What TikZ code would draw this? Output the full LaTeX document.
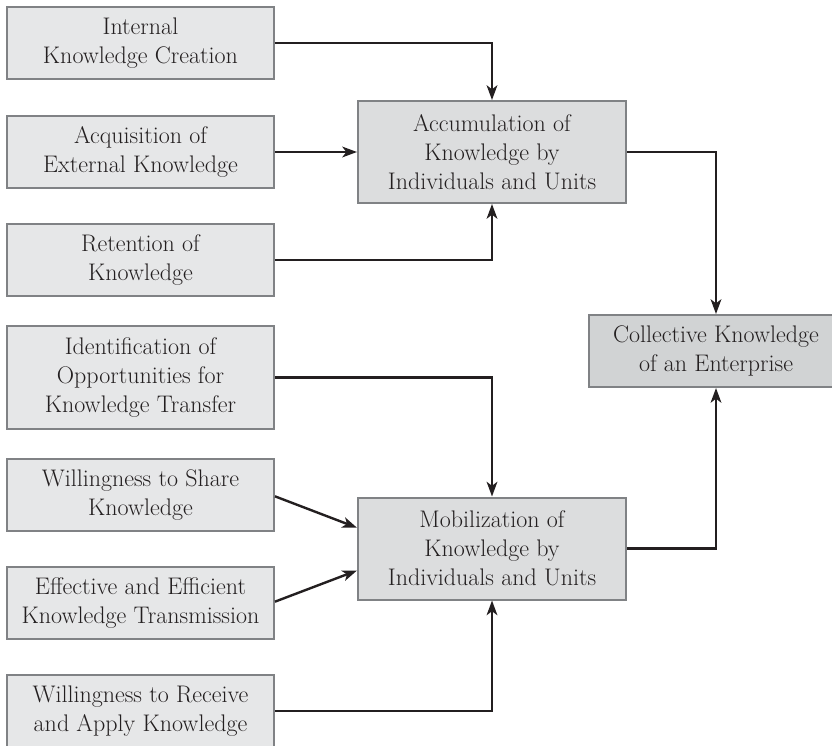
\documentclass[tikz,border=0pt]{standalone}
\usetikzlibrary{arrows.meta,calc}
\definecolor{boxfill}{HTML}{E6E7E8}
\definecolor{midfill}{HTML}{DCDDDE}
\definecolor{endfill}{HTML}{D1D3D4}
\definecolor{boxrule}{HTML}{808285}
\definecolor{ink}{HTML}{231F20}
\begin{document}
\begin{tikzpicture}[x=0.75pt,y=-0.75pt,
  every node/.style={font=\fontsize{18}{21.75}\selectfont, text=ink},
  block/.style={draw=boxrule, line width=1.5pt, fill=boxfill, align=center,
    inner sep=0pt, minimum width=200.25pt, minimum height=54pt},
  midblock/.style={block, fill=midfill, minimum width=201pt, minimum height=76.5pt},
  link/.style={draw=ink, line width=1.8pt,
    -{Stealth[length=11pt,width=8pt,inset=3pt]}}]
\useasboundingbox (0,0) rectangle (832,746);
% input factors
\node[block] (b1) at (140.5,43) {Internal\\Knowledge Creation};
\node[block] (b2) at (140.5,152) {Acquisition of\\External Knowledge};
\node[block] (b3) at (140.5,260) {Retention of\\Knowledge};
\node[block, minimum height=77.25pt] (b4) at (140.5,377.5) {Identification of\\Opportunities for\\Knowledge Transfer};
\node[block] (b5) at (140.5,495) {Willingness to Share\\Knowledge};
\node[block] (b6) at (140.5,603) {Effective and Efficient\\Knowledge Transmission};
\node[block] (b7) at (140.5,711) {Willingness to Receive\\and Apply Knowledge};
% intermediate processes
\node[midblock] (acc) at (492,152) {Accumulation of\\Knowledge by\\Individuals and Units};
\node[midblock] (mob) at (492,548.5) {Mobilization of\\Knowledge by\\Individuals and Units};
% outcome
\node[block, fill=endfill, minimum width=190.5pt] (coll) at (716,351) {Collective Knowledge\\of an Enterprise};
% connectors
\draw[link] (b1.east) -| (acc.north);
\draw[link] (b2.east) -- (acc.west);
\draw[link] (b3.east) -| (acc.south);
\draw[link] (acc.east) -| (coll.north);
\draw[link] (b4.east) -| (mob.north);
\draw[link] ([yshift=-1pt]b5.east) -- ([yshift=15.6pt]mob.west);
\draw[link] ([yshift=1pt]b6.east) -- ([yshift=-16.5pt]mob.west);
\draw[link] (b7.east) -| (mob.south);
\draw[link] (mob.east) -| (coll.south);
\end{tikzpicture}
\end{document}
